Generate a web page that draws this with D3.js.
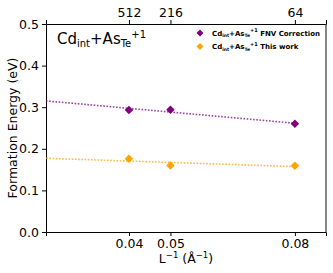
<!DOCTYPE html>
<html><head><meta charset="utf-8">
<script src="https://cdn.jsdelivr.net/npm/d3@7"></script>
<style>body{margin:0;background:#fff}svg{display:block}text{font-family:"DejaVu Sans",sans-serif}</style>
</head><body>
<script>
const invL = [0.04, 0.05, 0.08];
const supercell = ["512", "216", "64"];
const fnvValues = [0.293, 0.294, 0.260];
const thisWorkValues = [0.176, 0.160, 0.159];
const yTicks = [0.0, 0.1, 0.2, 0.3, 0.4, 0.5];
const seriesNames = ["FNV Correction", "This work"];
const colors = ["#800080", "#FFA500"];

(function(){
const W = 333, H = 273;
const svg = d3.select("body").append("svg").attr("width", W).attr("height", H);
const x = d3.scaleLinear().domain([0.02, 0.0875]).range([46, 326]);
const y = d3.scaleLinear().domain([0, 0.5]).range([232, 24]);

svg.append("defs").append("clipPath").attr("id","clip").append("rect")
  .attr("x",46).attr("y",24).attr("width",280).attr("height",208);

// axes
const gBottom = svg.append("g").attr("transform","translate(0,232)")
  .call(d3.axisBottom(x).tickValues(invL).tickFormat(d3.format(".2f")).tickSizeOuter(0).tickSize(4).tickPadding(3));
const gTop = svg.append("g").attr("transform","translate(0,24)")
  .call(d3.axisTop(x).tickValues(invL).tickFormat((d,i)=>supercell[i]).tickSizeOuter(0).tickSize(4).tickPadding(3));
const gLeft = svg.append("g").attr("transform","translate(46,0)")
  .call(d3.axisLeft(y).tickValues(yTicks).tickFormat(d3.format(".1f")).tickSizeOuter(0).tickSize(4).tickPadding(3));
[gBottom, gTop, gLeft].forEach(g=>{
  g.selectAll("text").attr("font-size",12.5).attr("fill","#000").attr("font-family","DejaVu Sans");
  g.select(".domain").attr("stroke","#000").attr("stroke-width",1);
  g.selectAll(".tick line").attr("stroke","#000");
});
svg.append("line").attr("x1",326).attr("x2",326).attr("y1",24).attr("y2",232).attr("stroke","#333").attr("stroke-width",1.2);

// labels
svg.append("text").attr("transform","translate(17,128) rotate(-90)").attr("text-anchor","middle")
  .attr("font-size",12.5).text("Formation Energy (eV)");
const xl = svg.append("text").attr("x",186).attr("y",263).attr("text-anchor","middle").attr("font-size",12.5);
xl.append("tspan").text("L");
xl.append("tspan").attr("dy",-5).attr("font-size",8.5).text("−1");
xl.append("tspan").attr("dy",5).text(" (Å");
xl.append("tspan").attr("dy",-5).attr("font-size",8.5).text("−1");
xl.append("tspan").attr("dy",5).text(")");

// title
const t = svg.append("text").attr("x",57).attr("y",44).attr("font-size",15);
t.append("tspan").text("Cd");
t.append("tspan").attr("dy",3).attr("font-size",10).text("int");
t.append("tspan").attr("dy",-3).text("+As");
t.append("tspan").attr("dy",3).attr("font-size",10).text("Te");
t.append("tspan").attr("dy",-9).attr("font-size",10).text("+1");

// fit lines + points
const series = [fnvValues, thisWorkValues];
series.forEach((vals, si) => {
  const mx = d3.mean(invL), my = d3.mean(vals);
  const slope = d3.sum(invL, (d,i)=>(d-mx)*(vals[i]-my)) / d3.sum(invL, d=>(d-mx)*(d-mx));
  const f = v => my + slope*(v-mx);
  const x0 = 0, x1 = d3.max(invL);
  svg.append("line").attr("clip-path","url(#clip)")
    .attr("x1",x(x0)).attr("y1",y(f(x0))).attr("x2",x(x1)).attr("y2",y(f(x1)))
    .attr("stroke",colors[si]).attr("stroke-width",1.6).attr("stroke-dasharray","1.6,1.6").attr("opacity",0.75);
  svg.selectAll(null).data(vals).enter().append("path")
    .attr("d", d3.symbol().type(d3.symbolSquare).size(36))
    .attr("transform",(d,i)=>`translate(${x(invL[i])},${y(d)}) rotate(45)`)
    .attr("fill",colors[si]);
});

// legend
seriesNames.forEach((name, i) => {
  const ly = 33 + i*13.5;
  svg.append("path").attr("d", d3.symbol().type(d3.symbolSquare).size(24))
    .attr("transform",`translate(200,${ly}) rotate(45)`).attr("fill",colors[i]);
  const lt = svg.append("text").attr("x",212).attr("y",ly+2.5).attr("font-size",7).attr("font-weight","bold");
  lt.append("tspan").text("Cd");
  lt.append("tspan").attr("dy",1.5).attr("font-size",4.5).text("int");
  lt.append("tspan").attr("dy",-1.5).text("+As");
  lt.append("tspan").attr("dy",1.5).attr("font-size",4.5).text("Te");
  lt.append("tspan").attr("dy",-5).attr("font-size",5).text("+1");
  lt.append("tspan").attr("dy",3.5).text(" " + name);
});
})();
</script>
</body></html>
